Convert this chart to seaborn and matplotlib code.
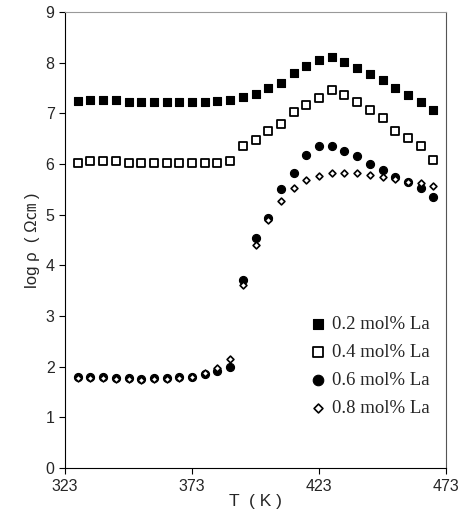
import numpy as np
import pandas as pd
import matplotlib
matplotlib.use("Agg")
import matplotlib.pyplot as plt
import seaborn as sns

T = list(range(328, 469, 5))

la02 = [7.25, 7.27, 7.27, 7.27, 7.23, 7.23, 7.23, 7.23, 7.23, 7.23, 7.23, 7.25, 7.27,
        7.33, 7.38, 7.50, 7.61, 7.79, 7.94, 8.06, 8.11, 8.02, 7.90, 7.78, 7.67, 7.50,
        7.37, 7.22, 7.07]
la04 = [6.03, 6.06, 6.06, 6.06, 6.03, 6.03, 6.03, 6.03, 6.03, 6.03, 6.03, 6.03, 6.06,
        6.36, 6.48, 6.65, 6.80, 7.02, 7.17, 7.31, 7.46, 7.36, 7.22, 7.07, 6.92, 6.65,
        6.52, 6.36, 6.09]
la06 = [1.80, 1.80, 1.80, 1.77, 1.77, 1.75, 1.77, 1.77, 1.79, 1.80, 1.86, 1.91, 2.00,
        3.72, 4.55, 4.93, 5.50, 5.83, 6.18, 6.36, 6.36, 6.25, 6.16, 6.00, 5.88, 5.75,
        5.65, 5.52, 5.36]
la08 = [1.78, 1.78, 1.78, 1.76, 1.76, 1.74, 1.76, 1.76, 1.78, 1.79, 1.88, 1.98, 2.16,
        3.62, 4.40, 4.90, 5.27, 5.52, 5.68, 5.76, 5.82, 5.82, 5.82, 5.78, 5.75, 5.70,
        5.65, 5.63, 5.57]

labels = ["0.2 mol% La", "0.4 mol% La", "0.6 mol% La", "0.8 mol% La"]
xticks = [323, 373, 423, 473]
yticks = list(range(0, 10))

sns.set_style("white")
plt.rcParams['font.family'] = ['Liberation Sans', 'Noto Sans CJK JP', 'DejaVu Sans']

fig = plt.figure(figsize=(4.71, 5.29), dpi=100)
ax = fig.add_axes([0.138, 0.115, 0.809, 0.862])

styles = [
    dict(marker='s', s=32, color='black', edgecolor='black', linewidth=0.8),
    dict(marker='s', s=32, facecolor='white', edgecolor='black', linewidth=1.3),
    dict(marker='o', s=34, color='black', edgecolor='black', linewidth=0.8),
    dict(marker='D', s=12, facecolor='white', edgecolor='black', linewidth=1.2),
]
series = [la02, la04, la06, la08]
for vals, lab, st in zip(series, labels, styles):
    df = pd.DataFrame({"T": T, "rho": vals})
    sns.scatterplot(data=df, x="T", y="rho", ax=ax, label=lab, zorder=3, **st)

ax.set_xlim(323, 473)
ax.set_ylim(0, 9)
ax.set_xticks(xticks)
ax.set_yticks(yticks)
ax.tick_params(axis='both', labelsize=11.5, direction='out', length=4, width=0.8,
               color='black', left=True, bottom=True)
for sp in ax.spines.values():
    sp.set_visible(True)
    sp.set_color('black')
    sp.set_linewidth(0.8)
ax.spines['top'].set_color('#999999')
ax.spines['right'].set_color('#555555')

ax.set_xlabel("T  ( K )", fontsize=12.5, labelpad=0)
ax.set_ylabel("log ρ  ( Ω㎝ )", fontsize=12, labelpad=4)

leg = ax.legend(loc='upper left', bbox_to_anchor=(0.615, 0.35), frameon=False,
                prop={'family': 'Liberation Serif', 'size': 13.5},
                handletextpad=0.15, labelspacing=0.58, markerscale=1.3,
                borderaxespad=0, handlelength=1.2)

fig.savefig("out.png", dpi=100)
